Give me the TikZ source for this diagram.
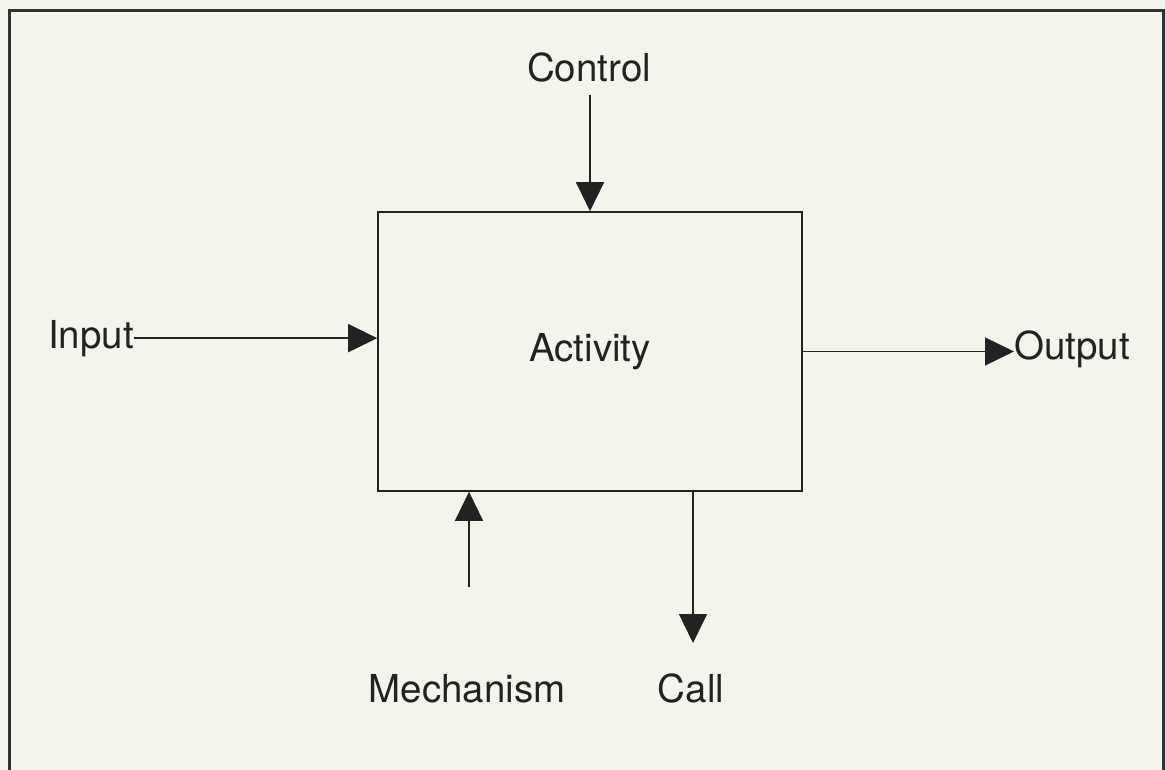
\documentclass[tikz,border=0pt]{standalone}
\usepackage{fontspec}
\setmainfont{TeX Gyre Heros}
\usetikzlibrary{arrows.meta}
\definecolor{paper}{RGB}{244,244,236}
\definecolor{ink}{RGB}{34,34,34}
\definecolor{framec}{RGB}{50,50,50}
\begin{document}
\begin{tikzpicture}[x=1pt,y=-1pt,
  lbl/.style={font=\fontsize{38.5}{46}\selectfont, inner sep=0pt, text=ink},
  flow/.style={line width=1.4pt, draw=ink, -{Triangle[length=29pt,width=28pt]}},
  actbox/.style={draw=ink, line width=1.6pt, minimum width=424pt, minimum height=279pt,
                 inner sep=0pt, font=\fontsize{38.5}{46}\selectfont, text=ink},
  border/.style={draw=framec, line width=3pt}]
  \useasboundingbox (0,0) rectangle (1165,770);
  \fill[paper] (0,0) rectangle (1165,770);
  % outer frame (runs off the bottom edge)
  \draw[border] (9,790) -- (9,11) -- (1163,11) -- (1163,790);

  % activity box
  \node[actbox] (act) at (590,351.5) {Activity};

  % labels
  \node[lbl, anchor=base] (ctl) at (589,82) {Control};
  \node[lbl, anchor=base west] (in) at (48,348) {Input};
  \node[lbl, anchor=base west] (out) at (1014,359) {Output};
  \node[lbl, anchor=base] (mech) at (467,702) {Mechanism};
  \node[lbl, anchor=base] (call) at (691,702) {Call};

  % free ends of the vertical connectors
  \coordinate (ctlS) at (590,95);
  \coordinate (mechS) at (469,587);
  \coordinate (callE) at (693,643);

  % connectors
  \draw[flow] (ctlS) -- (act.north -| ctlS);
  \draw[flow] (in.east) -- (act.west |- in.east);
  \draw[flow] (act.east) -- (out.west |- act.east);
  \draw[flow] (mechS) -- (act.south -| mechS);
  \draw[flow] (act.south -| callE) -- (callE);
\end{tikzpicture}
\end{document}
